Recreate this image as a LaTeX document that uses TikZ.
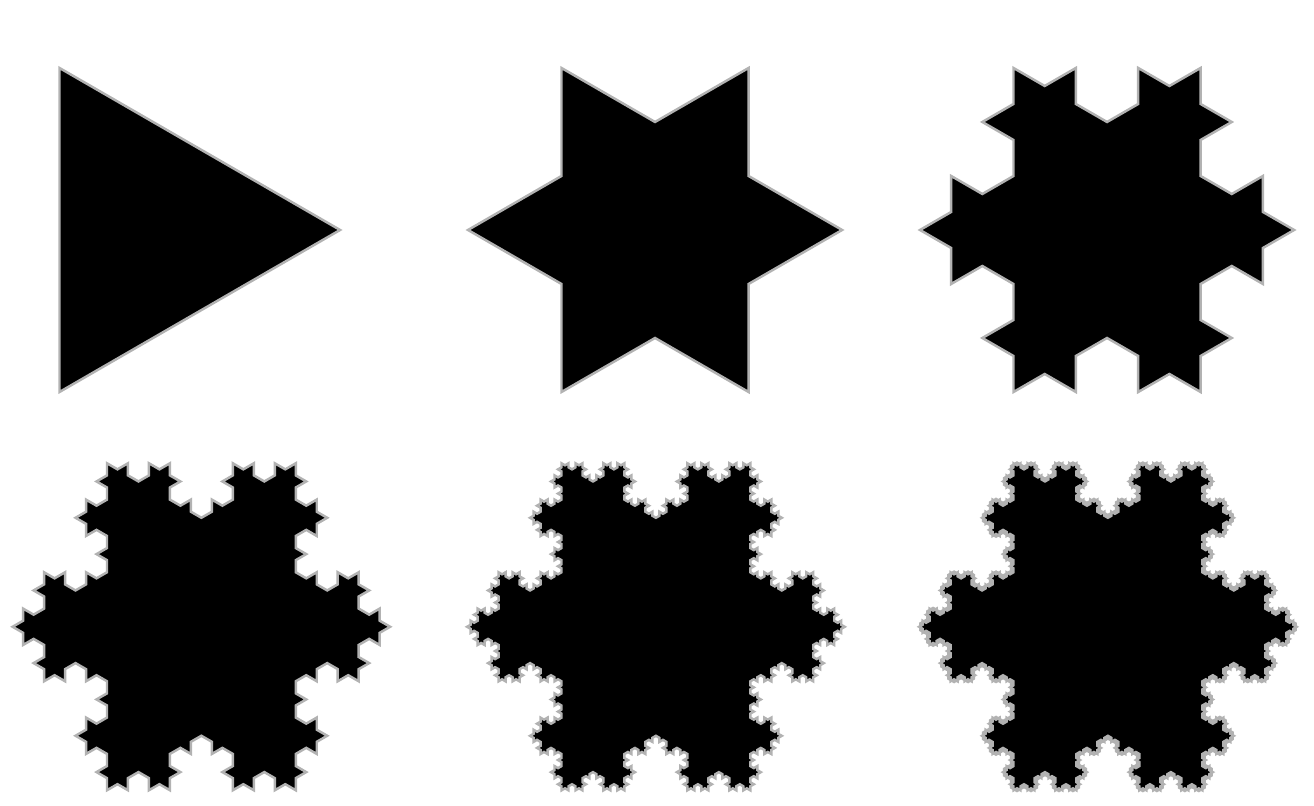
\documentclass[tikz,border=0pt]{standalone}
\usetikzlibrary{lindenmayersystems}

\pgfdeclarelindenmayersystem{koch flake}{\rule{F -> F-F++F-F}}

\begin{document}
\begin{tikzpicture}[
    flake/.style={fill=black, draw=black!30, line width=0.7pt, line join=miter},
]

    % page
    \useasboundingbox (0,0) rectangle (13.14,8.06);

    % order 0: triangle
    \begin{scope}[shift={(0.595,7.38)}, rotate=-90]
        \path[flake] (0,0) [l-system={koch flake, axiom=F++F++F, angle=60, step=3.24cm, order=0}] lindenmayer system -- cycle;
    \end{scope}

    % order 1: star
    \begin{scope}[shift={(5.615,7.38)}, rotate=-90]
        \path[flake] (0,0) [l-system={koch flake, axiom=F++F++F, angle=60, step=1.08cm, order=1}] lindenmayer system -- cycle;
    \end{scope}

    % order 2
    \begin{scope}[shift={(10.135,7.38)}, rotate=-90]
        \path[flake] (0,0) [l-system={koch flake, axiom=F++F++F, angle=60, step=0.36cm, order=2}] lindenmayer system -- cycle;
    \end{scope}

    % order 3
    \begin{scope}[shift={(1.07,3.427)}, rotate=-90]
        \path[flake] (0,0) [l-system={koch flake, axiom=F++F++F, angle=60, step=0.1211cm, order=3}] lindenmayer system -- cycle;
    \end{scope}

    % order 4
    \begin{scope}[shift={(5.615,3.427)}, rotate=-90]
        \path[flake] (0,0) [l-system={koch flake, axiom=F++F++F, angle=60, step=0.04037cm, order=4}] lindenmayer system -- cycle;
    \end{scope}

    % order 5
    \begin{scope}[shift={(10.135,3.427)}, rotate=-90]
        \path[flake] (0,0) [l-system={koch flake, axiom=F++F++F, angle=60, step=0.013457cm, order=5}] lindenmayer system -- cycle;
    \end{scope}

\end{tikzpicture}
\end{document}
